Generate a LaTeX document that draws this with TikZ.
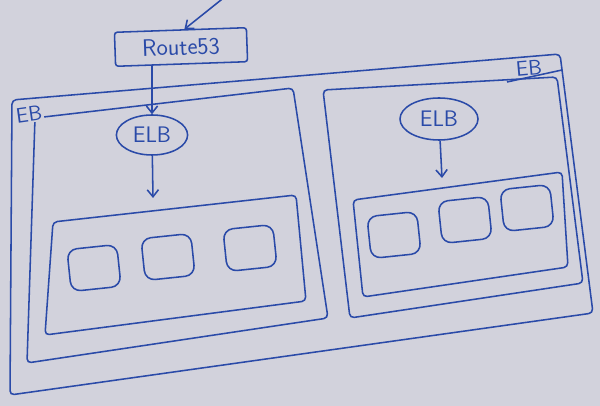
\documentclass[tikz,border=0pt]{standalone}
\usetikzlibrary{shapes.geometric,arrows.meta}
\definecolor{ink}{RGB}{42,74,168}
\definecolor{paper}{RGB}{210,210,220}
\tikzset{
  box/.style={draw=ink,line width=1.1pt,rounded corners=3pt},
  inst/.style={draw=ink,line width=1.1pt,rounded corners=7pt,minimum width=1.25cm,minimum height=1.05cm,rotate=6},
  elb/.style={draw=ink,ellipse,line width=1.1pt,text=ink,inner sep=0pt,font=\sffamily\fontsize{16}{18}\selectfont},
  lbl/.style={text=ink,fill=paper,inner sep=1pt,font=\sffamily\fontsize{15}{17}\selectfont}
}
\begin{document}
\begin{tikzpicture}[x=0.025cm,y=-0.025cm,line width=1.1pt,>={Straight Barb[length=5pt,width=8pt]}]
        \fill[paper](0,0)rectangle(600,406);
        \useasboundingbox(0,0)rectangle(600,406);

        \draw[box](12,100)--(560,54)--(593,313)--(10,395)--cycle;
        \draw[box](35,118)--(293,88)--(328,318)--(27,363)--cycle;
        \draw[box](323,90)--(557,77)--(583,283)--(350,318)--cycle;
        \draw[box](53,222)--(296,195)--(306,301)--(45,335)--cycle;
        \draw[box](353,200)--(562,172)--(568,267)--(363,297)--cycle;
        \draw[ink](507,82)--(562,70);

        \node[lbl,rotate=8](eb1)at(29,114){EB};
        \node[lbl,rotate=5,fill=none](eb2)at(529,68){EB};

        \node[draw=ink,text=ink,rounded corners=2pt,minimum width=3.3cm,minimum height=0.85cm,rotate=2,
              font=\sffamily\fontsize{17}{19}\selectfont](r)at(181,47){Route53};
        \node[elb,minimum width=1.78cm,minimum height=1cm](e1)at(152,135){ELB};
        \node[elb,minimum width=1.95cm,minimum height=1.05cm](e2)at(439,119){ELB};

        \node[inst](i1)at(94,268){};
        \node[inst](i2)at(168,257){};
        \node[inst](i3)at(250,248){};
        \node[inst](i4)at(394,235){};
        \node[inst](i5)at(465,220){};
        \node[inst](i6)at(527,208){};

        \coordinate(in)at(226,-4);
        \coordinate(t1)at(153,198);
        \coordinate(t2)at(442,178);
        \draw[->,ink](in)--([xshift=0.1cm]r.north);
        \draw[->,ink](r.south-|e1)--(e1);
        \draw[->,ink](e1)--(t1);
        \draw[->,ink](e2)--(t2);
\end{tikzpicture}
\end{document}
